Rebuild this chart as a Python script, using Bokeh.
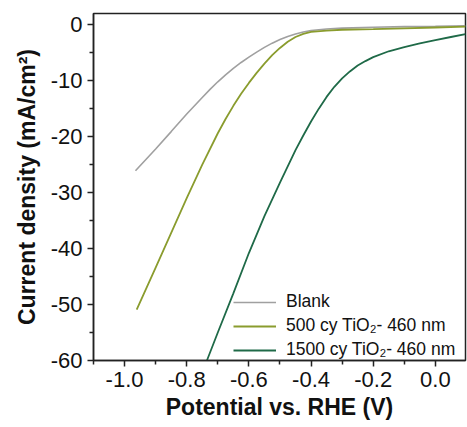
from bokeh.plotting import figure
from bokeh.models import FixedTicker, Range1d, Legend, LegendItem
from bokeh.embed import file_html
from bokeh.resources import INLINE

# ---- data ----
blank_x = [-0.965, -0.90, -0.85, -0.80, -0.75, -0.725, -0.70, -0.675, -0.65, -0.625, -0.60,
           -0.575, -0.55, -0.525, -0.50, -0.475, -0.45, -0.425, -0.40, -0.35, -0.30,
           -0.20, -0.10, 0.0, 0.097]
blank_y = [-26.1, -22.2, -19.1, -15.95, -13.0, -11.55, -10.2, -8.95, -7.8, -6.75, -5.8,
           -4.9, -4.05, -3.3, -2.65, -2.1, -1.65, -1.3, -1.05, -0.78, -0.62,
           -0.45, -0.35, -0.28, -0.2]

c500_x = [-0.961, -0.90, -0.85, -0.80, -0.75, -0.70, -0.675, -0.65, -0.625, -0.60, -0.575,
          -0.55, -0.525, -0.50, -0.475, -0.45, -0.425, -0.40, -0.35, -0.30, -0.20,
          -0.10, 0.0, 0.097]
c500_y = [-50.9, -43.4, -37.2, -31.0, -25.0, -19.4, -16.85, -14.5, -12.35, -10.4, -8.6,
          -6.95, -5.45, -4.15, -3.05, -2.2, -1.65, -1.3, -1.05, -0.9, -0.8,
          -0.65, -0.5, -0.35]

c1500_x = [-0.735, -0.70, -0.65, -0.60, -0.55, -0.50, -0.45, -0.425, -0.40, -0.375, -0.35,
           -0.325, -0.30, -0.275, -0.25, -0.225, -0.20, -0.15, -0.10, -0.05, 0.0, 0.05, 0.097]
c1500_y = [-60.0, -55.0, -48.0, -40.8, -34.2, -28.2, -22.4, -19.8, -17.3, -15.0, -12.9,
           -11.1, -9.6, -8.35, -7.3, -6.5, -5.8, -4.75, -4.0, -3.35, -2.75, -2.2, -1.7]

series_labels = ["Blank", "500 cy TiO\u2082- 460 nm", "1500 cy TiO\u2082- 460 nm"]
series_colors = ["#a0a0a0", "#8a9c2e", "#1f6a48"]

x_ticks = [-1.0, -0.8, -0.6, -0.4, -0.2, 0.0]
x_tick_labels = ["-1.0", "-0.8", "-0.6", "-0.4", "-0.2", "0.0"]
x_minor = [-1.1, -0.9, -0.7, -0.5, -0.3, -0.1, 0.1]
y_ticks = [0, -10, -20, -30, -40, -50, -60]
y_tick_labels = ["0", "-10", "-20", "-30", "-40", "-50", "-60"]
y_minor = [-5, -15, -25, -35, -45, -55]

FONT = "Liberation Sans"

p = figure(width=467, height=427, output_backend="svg", toolbar_location=None,
           x_range=Range1d(-1.1, 0.097), y_range=Range1d(-60, 2),
           min_border_left=93, min_border_right=2, min_border_top=13, min_border_bottom=67)

r1 = p.line(blank_x, blank_y, line_color=series_colors[0], line_width=1.6)
r2 = p.line(c500_x, c500_y, line_color=series_colors[1], line_width=1.8)
r3 = p.line(c1500_x, c1500_y, line_color=series_colors[2], line_width=1.8)

p.grid.visible = False
p.outline_line_color = "#222222"
p.outline_line_width = 1.5
p.background_fill_color = "white"
p.border_fill_color = "white"

p.xaxis.ticker = FixedTicker(ticks=x_ticks, minor_ticks=x_minor)
p.yaxis.ticker = FixedTicker(ticks=y_ticks, minor_ticks=y_minor)
p.xaxis.major_label_overrides = dict(zip(x_ticks, x_tick_labels))
p.yaxis.major_label_overrides = dict(zip(y_ticks, y_tick_labels))

for ax in (p.xaxis, p.yaxis):
    ax.axis_line_width = 1.5
    ax.axis_line_color = "#222222"
    ax.major_tick_line_width = 1.5
    ax.minor_tick_line_width = 1.5
    ax.major_tick_line_color = "#222222"
    ax.minor_tick_line_color = "#222222"
    ax.major_tick_out = 6
    ax.major_tick_in = 0
    ax.minor_tick_out = 4
    ax.minor_tick_in = 0
    ax.major_label_text_font = FONT
    ax.major_label_text_font_size = "22px"
    ax.major_label_text_color = "#111111"
    ax.axis_label_text_font = FONT
    ax.axis_label_text_font_style = "bold"
    ax.axis_label_text_color = "#111111"

p.xaxis.axis_label = "Potential vs. RHE (V)"
p.xaxis.axis_label_text_font_size = "23px"
p.xaxis.major_label_standoff = 5
p.xaxis.axis_label_standoff = 4
p.yaxis.axis_label = "Current density (mA/cm\u00b2)"
p.yaxis.axis_label_text_font_size = "23px"
p.yaxis.major_label_standoff = 5
p.yaxis.axis_label_standoff = 8

legend = Legend(items=[LegendItem(label=series_labels[0], renderers=[r1]),
                       LegendItem(label=series_labels[1], renderers=[r2]),
                       LegendItem(label=series_labels[2], renderers=[r3])],
                location=(140, 0))
legend.border_line_color = None
legend.background_fill_alpha = 0
legend.label_text_font = FONT
legend.label_text_font_size = "17.5px"
legend.label_text_color = "#111111"
legend.glyph_width = 43
legend.glyph_height = 20
legend.label_height = 20
legend.label_standoff = 10
legend.spacing = 3
legend.padding = 2
legend.margin = 0
p.add_layout(legend)

open("out.html", "w").write(file_html(p, INLINE))
